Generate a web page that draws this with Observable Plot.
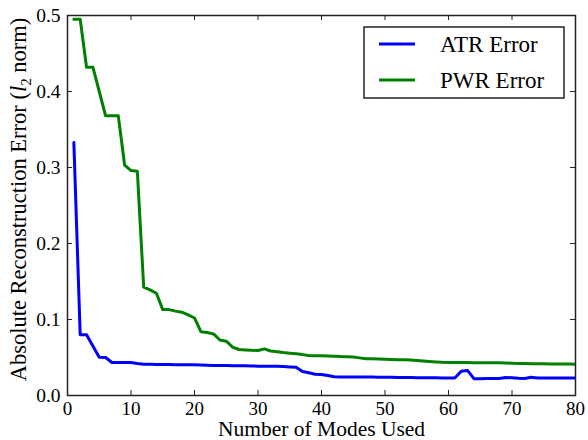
<!DOCTYPE html>
<html>
<head>
<meta charset="utf-8">
<script src="https://cdn.jsdelivr.net/npm/d3@7"></script>
<script src="https://cdn.jsdelivr.net/npm/@observablehq/plot@0.6"></script>
<style>
  html, body { margin: 0; padding: 0; background: #fff; }
  #chart svg { display: block; }
</style>
</head>
<body>
<div id="chart"></div>
<script>
// ---- data ----
const seriesNames = ["ATR Error", "PWR Error"];
const seriesColors = ["#0000ff", "#008000"];
const xTicks = [0, 10, 20, 30, 40, 50, 60, 70, 80];
const yTicks = [0.0, 0.1, 0.2, 0.3, 0.4, 0.5];
const xLabel = "Number of Modes Used";
const yLabel = "Absolute Reconstruction Error (l2 norm)";

// error for 1..80 modes
const atrError = [
  0.333,0.080,0.080,0.065,0.0504,0.050,0.0434,0.0434,0.0434,0.0433,
  0.0420,0.0410,0.0410,0.0409,0.0408,0.0407,0.0406,0.0405,0.0404,0.0403,
  0.0400,0.0398,0.0396,0.0395,0.0394,0.0393,0.0392,0.0390,0.0388,0.0386,
  0.0386,0.0385,0.0384,0.0380,0.0376,0.0373,0.0316,0.0300,0.0280,0.0276,
  0.0262,0.0246,0.0245,0.0245,0.0244,0.0244,0.0243,0.0242,0.0241,0.0240,
  0.0239,0.0238,0.0237,0.0236,0.0235,0.0234,0.0233,0.0232,0.0230,0.0229,
  0.0230,0.0320,0.0330,0.0222,0.0222,0.0223,0.0223,0.0224,0.0237,0.0234,
  0.0228,0.0225,0.0240,0.0230,0.0229,0.0229,0.0230,0.0230,0.0230,0.0230
];
const pwrError = [
  0.495,0.495,0.432,0.432,0.400,0.368,0.368,0.368,0.303,0.296,
  0.295,0.1425,0.139,0.1346,0.113,0.113,0.111,0.1096,0.106,0.102,
  0.084,0.083,0.081,0.073,0.0715,0.0636,0.0605,0.060,0.0595,0.0592,
  0.0614,0.0585,0.0575,0.0565,0.0557,0.0548,0.0538,0.0526,0.0524,0.0522,
  0.052,0.0517,0.0512,0.051,0.0506,0.0495,0.0485,0.0483,0.048,0.0478,
  0.0475,0.0472,0.047,0.0466,0.046,0.0455,0.0448,0.0442,0.0436,0.0435,
  0.0434,0.0433,0.0433,0.0432,0.0432,0.0431,0.0431,0.043,0.0428,0.0425,
  0.0422,0.042,0.0419,0.0418,0.0417,0.0416,0.0415,0.0414,0.0413,0.0412
];

// ---- layout ----
const W = 588, H = 440;
const mL = 67, mR = 13, mT = 15, mB = 45;
const pxX = 80 / (W - mL - mR);   // data units per pixel
const pxY = 0.5 / (H - mT - mB);
const tickLen = 5;
const font = "'Liberation Serif', 'DejaVu Serif', serif";
const spine = "#222";

const rows = (arr, name) => arr.map((v, i) => ({mode: i + 1, err: v, series: name}));
const data = [...rows(atrError, seriesNames[0]), ...rows(pwrError, seriesNames[1])];

const chart = Plot.plot({
  width: W, height: H,
  marginLeft: mL, marginRight: mR, marginTop: mT, marginBottom: mB,
  style: {fontFamily: font, background: "#fff", color: "#000"},
  x: {domain: [0, 80]},
  y: {domain: [0, 0.5]},
  color: {domain: seriesNames, range: seriesColors},
  marks: [
    Plot.line(data, {x: "mode", y: "err", stroke: "series", strokeWidth: 3, strokeLinejoin: "round", clip: true}),
    Plot.frame({stroke: spine, strokeWidth: 1.5}),
    // inward ticks on all four sides
    Plot.ruleX(xTicks, {x: d => d, y1: 0, y2: tickLen * pxY, stroke: spine, strokeWidth: 1}),
    Plot.ruleX(xTicks, {x: d => d, y1: 0.5, y2: 0.5 - tickLen * pxY, stroke: spine, strokeWidth: 1}),
    Plot.ruleY(yTicks, {y: d => d, x1: 0, x2: tickLen * pxX, stroke: spine, strokeWidth: 1}),
    Plot.ruleY(yTicks, {y: d => d, x1: 80, x2: 80 - tickLen * pxX, stroke: spine, strokeWidth: 1}),
    Plot.axisX({ticks: xTicks, tickSize: 0, tickPadding: 6, fontSize: 19, label: null, tickFormat: d => String(d)}),
    Plot.axisY({ticks: yTicks, tickSize: 0, tickPadding: 7, fontSize: 19.5, label: null, tickFormat: d => d.toFixed(1)}),
    Plot.text([xLabel], {frameAnchor: "bottom", textAnchor: "middle", lineAnchor: "middle", dy: 34, fontSize: 21.5, fill: "#000"}),
    Plot.text([yLabel], {frameAnchor: "left", textAnchor: "middle", lineAnchor: "middle", rotate: -90, dx: -49, dy: -6, fontSize: 22.5, fill: "#000"})
  ]
});

document.getElementById("chart").appendChild(chart);

// y label: italic l with subscript 2
const svg = d3.select(chart);
svg.selectAll("text").filter(function () { return this.textContent === yLabel; }).each(function () {
  const t = d3.select(this);
  t.text(null);
  t.append("tspan").text("Absolute Reconstruction Error (");
  t.append("tspan").attr("font-style", "italic").text("l");
  t.append("tspan").attr("dy", 5).attr("font-size", 15).text("2");
  t.append("tspan").attr("dy", -5).text(" norm)");
});

// legend
const lg = svg.append("g").attr("font-family", font).attr("text-anchor", "start");
lg.append("rect").attr("x", 364).attr("y", 27).attr("width", 200).attr("height", 71)
  .attr("fill", "#fff").attr("stroke", spine).attr("stroke-width", 1.5);
seriesNames.forEach((name, i) => {
  const cy = 44 + i * 36;
  lg.append("line").attr("x1", 379).attr("x2", 415).attr("y1", cy).attr("y2", cy)
    .attr("stroke", seriesColors[i]).attr("stroke-width", 3);
  lg.append("text").attr("x", 440).attr("y", cy + 8).attr("font-size", 23)
    .attr("text-anchor", "start").attr("fill", "#000").text(name);
});
</script>
</body>
</html>
